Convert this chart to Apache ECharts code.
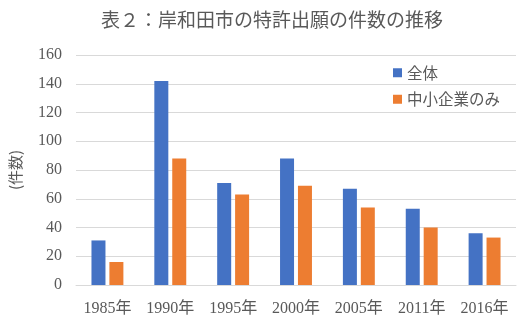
<!DOCTYPE html>
<html><head><meta charset="utf-8">
<script src="https://cdn.jsdelivr.net/npm/echarts@6/dist/echarts.min.js"></script>
<style>html,body{margin:0;padding:0;background:#fff}#c{width:523px;height:323px}</style>
</head><body><div id="c"></div>
<script>
const categories = ['1985年','1990年','1995年','2000年','2005年','2011年','2016年'];
const seriesNames = ['全体','中小企業のみ'];
const totalValues = [31, 142, 71, 88, 67, 53, 36];
const smeValues = [16, 88, 63, 69, 54, 40, 33];
const yTicks = [0, 20, 40, 60, 80, 100, 120, 140, 160];
const titleText = '表２：岸和田市の特許出願の件数の推移';
const yName = '(件数)';

const font = '"Liberation Serif", "Noto Sans CJK JP", serif';
const chart = echarts.init(document.getElementById('c'), null, {renderer:'canvas'});
chart.setOption({
  animation: false,
  backgroundColor: '#fff',
  title: {text: titleText, left: 96, top: 5,
    textStyle: {fontFamily: '"Noto Sans CJK JP", sans-serif', fontSize: 19, fontWeight: 'normal', color: '#595959'}},
  legend: {orient: 'vertical', left: 388, top: 60, itemWidth: 9, itemHeight: 9, itemGap: 11,
    icon: 'rect', textStyle: {fontFamily: '"Noto Sans CJK JP", sans-serif', fontSize: 15.5, color: '#595959'},
    data: seriesNames},
  grid: {left: 76, right: 7, top: 55, bottom: 38},
  xAxis: {type: 'category', data: categories,
    axisLine: {lineStyle: {color: '#d9d9d9'}}, axisTick: {show: false},
    axisLabel: {fontFamily: font, fontSize: 16, color: '#595959', margin: 16}},
  yAxis: {type: 'value', min: yTicks[0], max: yTicks[yTicks.length-1], interval: 20,
    name: yName, nameLocation: 'middle', nameGap: 53, nameRotate: 90,
    nameTextStyle: {fontFamily: '"Noto Sans CJK JP", sans-serif', fontSize: 15, color: '#595959'},
    axisLine: {show: false}, axisTick: {show: false},
    splitLine: {lineStyle: {color: '#d9d9d9'}},
    axisLabel: {fontFamily: font, fontSize: 16, color: '#595959', margin: 14}},
  series: [
    {name: seriesNames[0], type: 'bar', data: totalValues, barWidth: 14, barGap: '28%', itemStyle: {color: '#4472c4'}},
    {name: seriesNames[1], type: 'bar', data: smeValues, barWidth: 14, itemStyle: {color: '#ed7d31'}}
  ]
});
</script></body></html>
